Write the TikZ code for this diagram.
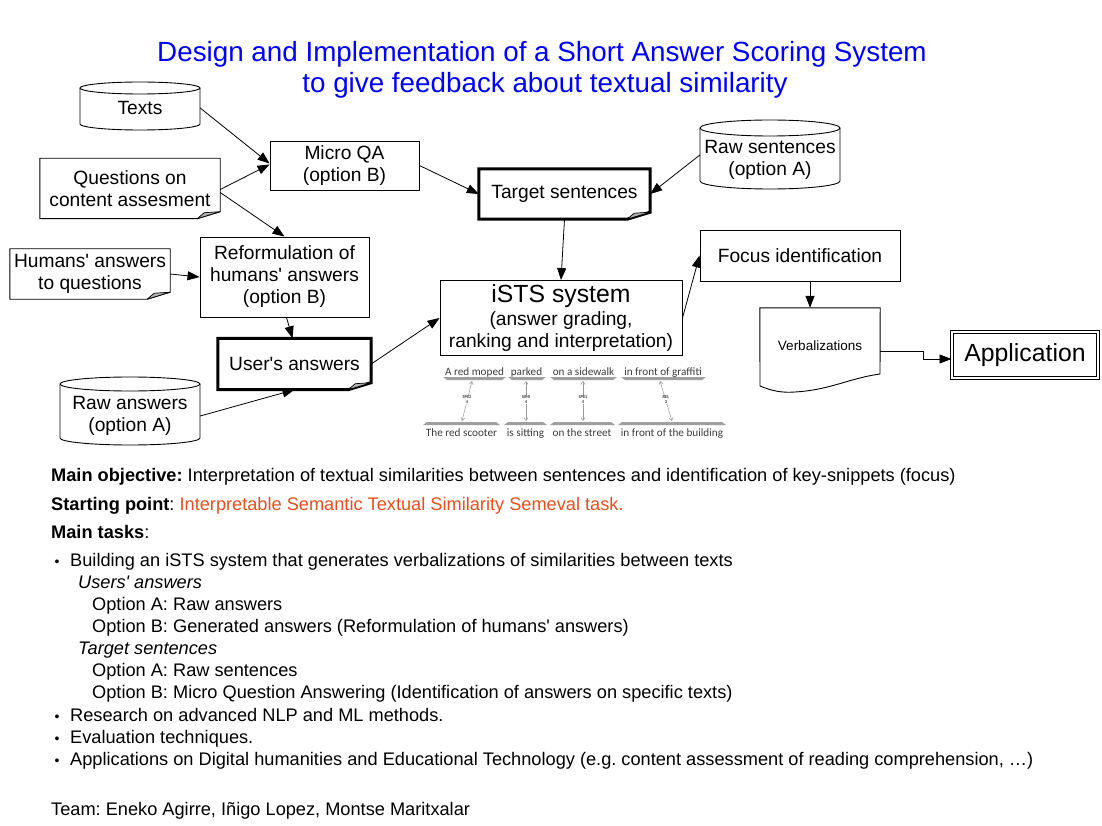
\documentclass[tikz,border=0pt]{standalone}
\usepackage{fontspec}
\setmainfont{Liberation Sans}[Ligatures=TeXOff]
\newfontfamily\calib{Carlito}[Ligatures=TeXOff]
\usetikzlibrary{arrows.meta,calc}
\frenchspacing
\definecolor{titleblue}{RGB}{0,0,255}
\definecolor{orangetxt}{RGB}{230,80,30}
\definecolor{foldgray}{RGB}{175,175,175}
\definecolor{figgray}{RGB}{60,60,60}
\newcommand\ndfont{\fontsize{19.2}{22}\selectfont}
\newcommand\bdfont{\fontsize{18.2}{21}\selectfont}
\newcommand\ttlfont{\fontsize{27.8}{31}\selectfont}
\newcommand\bigfont{\fontsize{24.8}{27}\selectfont}
\newcommand\docoutline[2]{%
  \draw[line width=#2, line join=miter] (#1.north west) -- (#1.north east) -- ([yshift=7pt]#1.south east) -- ([xshift=-23pt]#1.south east) -- (#1.south west) -- cycle;
  \draw[line width=0.7pt, fill=foldgray, line join=round] ([xshift=-23pt]#1.south east) -- ([xshift=-16pt,yshift=6pt]#1.south east) -- ([yshift=7pt]#1.south east) -- cycle;}
\begin{document}
\frenchspacing
\begin{tikzpicture}[x=1pt,y=-1pt,
  box/.style={draw, line width=0.9pt, inner sep=0pt, align=center, font=\ndfont},
  plain/.style={inner sep=0pt, align=center, font=\ndfont},
  arr/.style={line width=0.8pt, -{Triangle[length=12pt,width=9pt]}},
  body/.style={anchor=base west, inner sep=0pt, font=\bdfont\frenchspacing},
  ttl/.style={anchor=base, inner sep=0pt, font=\ttlfont, text=titleblue},
  phr/.style={anchor=base, inner sep=0pt, font=\calib\fontsize{11.2}{12}\selectfont, text=figgray},
  lbl/.style={inner sep=0.4pt, fill=white, align=center, font=\calib\bfseries\fontsize{4.5}{5}\selectfont, text=figgray},
  bar/.style={fill=gray!75},
  link/.style={draw=gray!80, line width=0.5pt, {Straight Barb[length=3pt,width=4pt]}-{Straight Barb[length=3pt,width=4pt]}},
  bul/.style={anchor=base west, inner sep=0pt, font=\fontsize{14}{14}\selectfont}
]
\useasboundingbox (0,0) rectangle (1102,826);
\fill[white] (0,0) rectangle (1102,826);

% title
\node[ttl] (title1) at (542,62) {Design and Implementation of a Short Answer Scoring System};
\node[ttl] (title2) at (545,93) {to give feedback about textual similarity};

% cylinders
\draw[line width=0.9pt, fill=white] (80,88) -- (80,124) arc[start angle=180,end angle=360,x radius=60pt,y radius=6pt] -- (200,88);
\draw[line width=0.9pt, fill=white] (140,88) ellipse[x radius=60pt,y radius=6pt];
\node[plain, minimum width=120pt, minimum height=46pt] (texts) at (140,108) {Texts};

\draw[line width=0.9pt, fill=white] (700,128) -- (700,181) arc[start angle=180,end angle=360,x radius=70pt,y radius=8pt] -- (840,128);
\draw[line width=0.9pt, fill=white] (770,128) ellipse[x radius=70pt,y radius=8pt];
\node[plain, minimum width=140pt, minimum height=60pt] (rawsent) at (770,160) {Raw sentences\\(option A)};

\draw[line width=0.9pt, fill=white] (60,384) -- (60,438) arc[start angle=180,end angle=360,x radius=70pt,y radius=7pt] -- (200,384);
\draw[line width=0.9pt, fill=white] (130,384) ellipse[x radius=70pt,y radius=7pt];
\node[plain, minimum width=140pt, minimum height=60pt] (rawans) at (130,416) {Raw answers\\(option A)};

% document-shaped nodes
\node[plain, minimum width=180pt, minimum height=60pt] (questions) at (130,188.5) {Questions on\\content assesment};
\docoutline{questions}{0.9pt}
\node[plain, minimum width=160pt, minimum height=50pt] (humans) at (90,274) {Humans' answers\\to questions};
\docoutline{humans}{0.9pt}
\node[plain, minimum width=171pt, minimum height=50pt] (target) at (564.5,194) {Target sentences};
\docoutline{target}{3pt}
\node[plain, minimum width=153pt, minimum height=51pt] (users) at (294.5,364) {User's answers};
\docoutline{users}{3pt}

% boxes
\node[box, minimum width=149pt, minimum height=49pt] (micro) at (344.5,165.5) {Micro QA\\(option B)};
\node[box, minimum width=169pt, minimum height=80pt] (reform) at (284.5,277) {Reformulation of\\humans' answers\\(option B)};
\node[box, minimum width=242pt, minimum height=75pt] (ists) at (561,318) {{\bigfont iSTS system}\\[1pt](answer grading,\\ranking and interpretation)};
\node[box, minimum width=200pt, minimum height=51pt] (focus) at (800,255.5) {Focus identification};
\node[plain, minimum width=120pt, minimum height=76pt, font=\fontsize{13.5}{15}\selectfont] (verb) at (820,346) {Verbalizations};
\draw[line width=0.9pt, line join=miter] (verb.north west) -- (verb.north east) -- (880,374) .. controls (850,378) and (830,390) .. (795,392) .. controls (782,393) and (772,391) .. (760,386) -- cycle;
\node[draw, line width=1pt, double, double distance=2.6pt, inner sep=0pt, minimum width=146pt, minimum height=46pt, font=\bigfont] (app) at (1025,355) {Application};

% connectors
\draw[arr] (texts.east) -- ([yshift=2pt]micro.west);
\draw[arr] ([yshift=-1pt]questions.east) -- ([yshift=1pt]micro.west);
\draw[arr] ([yshift=-4pt]questions.east) -- (reform.north);
\draw[arr] (humans.east) -- (reform.west);
\draw[arr] ([xshift=2pt]reform.south) -- ([xshift=-2pt]users.north);
\draw[arr] (rawans.east) -- (users.south);
\draw[arr] (users.east) -- (ists.west);
\draw[arr] (micro.east) -- (target.west);
\draw[arr] ([yshift=5pt]rawsent.west) -- (target.east);
\draw[arr] (target.south) -- (ists.north);
\draw[arr] (ists.east) -- (focus.west);
\draw[arr] ([xshift=10pt]focus.south) -- ([xshift=-10pt]verb.north);
\draw[arr] ([yshift=-5pt]verb.east) -- ++(43,0) |- ([yshift=-4pt]app.west);

% alignment figure
\node[phr] (p1) at (474.5,375) {A red moped};
\node[phr] (p2) at (526.5,375) {parked};
\node[phr] (p3) at (583.5,375) {on a sidewalk};
\node[phr] (p4) at (663,375) {in front of graffiti};
\node[phr] (q1) at (461.5,436) {The red scooter};
\node[phr] (q2) at (525.5,436) {is sitting};
\node[phr] (q3) at (582,436) {on the street};
\node[phr] (q4) at (672,436) {in front of the building};
\fill[bar] (443,377) -- (506,377) -- (502,380) -- (447,380) -- cycle;
\fill[bar] (508,377) -- (546,377) -- (542,380) -- (512,380) -- cycle;
\fill[bar] (550,377) -- (617,377) -- (613,380) -- (554,380) -- cycle;
\fill[bar] (621,377) -- (706,377) -- (702,380) -- (625,380) -- cycle;
\fill[bar] (427,422) -- (496,422) -- (500,425) -- (423,425) -- cycle;
\fill[bar] (508,422) -- (543,422) -- (547,425) -- (504,425) -- cycle;
\fill[bar] (554,422) -- (611,422) -- (615,425) -- (550,425) -- cycle;
\fill[bar] (622,422) -- (722,422) -- (726,425) -- (618,425) -- cycle;
\coordinate (a1) at (472,381); \coordinate (b1) at (462,421);
\coordinate (a2) at (526,381); \coordinate (b2) at (526,421);
\coordinate (a3) at (583,381); \coordinate (b3) at (583,421);
\coordinate (a4) at (660,381); \coordinate (b4) at (672,421);
\draw[link] (a1) -- (b1);
\draw[link] (a2) -- (b2);
\draw[link] (a3) -- (b3);
\draw[link] (a4) -- (b4);
\node[lbl] (l1) at (467,400) {SPE2\\4};
\node[lbl] (l2) at (526,400) {SIMI\\4};
\node[lbl] (l3) at (583,400) {SPE1\\4};
\node[lbl] (l4) at (666,400) {REL\\3};

% body text
\node[body] (obj) at (51,481) {\textbf{Main objective:} Interpretation of textual similarities between sentences and identification of key-snippets (focus)};
\node[body] (start) at (51,510) {\textbf{Starting point}: \textcolor{orangetxt}{Interpretable Semantic Textual Similarity Semeval task.}};
\node[body] (tasks) at (51,538) {\textbf{Main tasks}:};
\node[bul] (bu1) at (54.5,566) {•};
\node[body] (t1) at (70,566.5) {Building an iSTS system that generates verbalizations of similarities between texts};
\node[body] (t2) at (78,588.5) {\textit{Users' answers}};
\node[body] (t3) at (92,610.5) {Option A: Raw answers};
\node[body] (t4) at (92,632.5) {Option B: Generated answers (Reformulation of humans' answers)};
\node[body] (t5) at (78,654.5) {\textit{Target sentences}};
\node[body] (t6) at (92,676.5) {Option A: Raw sentences};
\node[body] (t7) at (92,698.5) {Option B: Micro Question Answering (Identification of answers on specific texts)};
\node[bul] (bu2) at (54.5,721) {•};
\node[body] (t8) at (70,721.5) {Research on advanced NLP and ML methods.};
\node[bul] (bu3) at (54.5,743) {•};
\node[body] (t9) at (70,743.5) {Evaluation techniques.};
\node[bul] (bu4) at (54.5,765) {•};
\node[body] (t10) at (70,765.5) {Applications on Digital humanities and Educational Technology (e.g. content assessment of reading comprehension, …)};
\node[body] (team) at (51,815) {Team: Eneko Agirre, Iñigo Lopez, Montse Maritxalar};
\end{tikzpicture}
\end{document}
